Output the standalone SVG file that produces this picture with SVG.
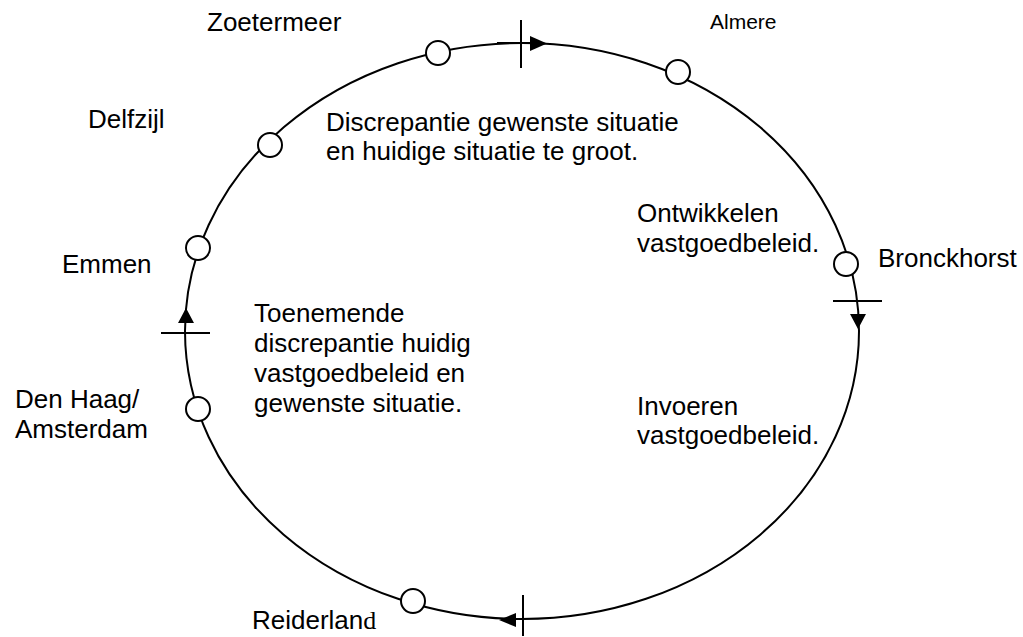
<svg xmlns="http://www.w3.org/2000/svg" width="1023" height="637" viewBox="0 0 1023 637">
<style>
.t{font-family:"Liberation Sans",Arial,sans-serif;font-size:26px;fill:#000}
.s{font-family:"Liberation Serif","Times New Roman",serif}
.ln{stroke:#000;stroke-width:2;fill:none}
.c{fill:#fff;stroke:#000;stroke-width:2}
.ah{fill:#000;stroke:none}
</style>
<rect width="1023" height="637" fill="#fff"/>
<g id="connectors">
<ellipse class="ln" cx="522" cy="331" rx="337" ry="288"/>
<line class="ln" x1="497" y1="43" x2="532" y2="43"/>
<line class="ln" x1="521" y1="20" x2="521" y2="68"/>
<polygon class="ah" points="547,43.5 530,36 530,51"/>
<line class="ln" x1="833" y1="301" x2="882" y2="301"/>
<polygon class="ah" points="858,329 850,314 866,314"/>
<line class="ln" x1="523" y1="595" x2="523" y2="636"/>
<polygon class="ah" points="499,620 516,613 516,627"/>
<line class="ln" x1="161" y1="333" x2="210" y2="333"/>
<polygon class="ah" points="186,308 178,323 194,323"/>
</g>
<g id="zoetermeer"><circle class="c" cx="438" cy="53" r="12"/><text class="t" x="207" y="31">Zoetermeer</text></g>
<g id="almere"><circle class="c" cx="678" cy="72" r="12"/><text class="t" x="710" y="29" style="font-size:21px">Almere</text></g>
<g id="delfzijl"><circle class="c" cx="270" cy="145" r="12"/><text class="t" x="88" y="128">Delfzijl</text></g>
<g id="emmen"><circle class="c" cx="198" cy="248" r="12"/><text class="t" x="62" y="273">Emmen</text></g>
<g id="denhaag"><circle class="c" cx="198" cy="409" r="12"/><text class="t" x="15" y="408">Den Haag/</text><text class="t" x="15" y="438">Amsterdam</text></g>
<g id="reiderland"><circle class="c" cx="413" cy="601" r="12"/><text class="t" x="252" y="629">Reiderlan<tspan class="s">d</tspan></text></g>
<g id="bronckhorst"><circle class="c" cx="846" cy="264" r="12"/><text class="t" x="878" y="267">Bronckhorst</text></g>
<g id="label-top"><text class="t" x="326" y="131">Discrepantie gewenste situatie</text><text class="t" x="326" y="160">en huidige situatie te groot.</text></g>
<g id="label-right-top"><text class="t" x="637" y="222">Ontwikkelen</text><text class="t" x="637" y="252">vastgoedbeleid.</text></g>
<g id="label-right-bottom"><text class="t" x="637" y="415">Invoeren</text><text class="t" x="637" y="444">vastgoedbeleid.</text></g>
<g id="label-left"><text class="t" x="254" y="322">Toenemende</text><text class="t" x="254" y="352">discrepantie huidig</text><text class="t" x="254" y="382">vastgoedbeleid en</text><text class="t" x="254" y="412">gewenste situatie.</text></g>
</svg>
